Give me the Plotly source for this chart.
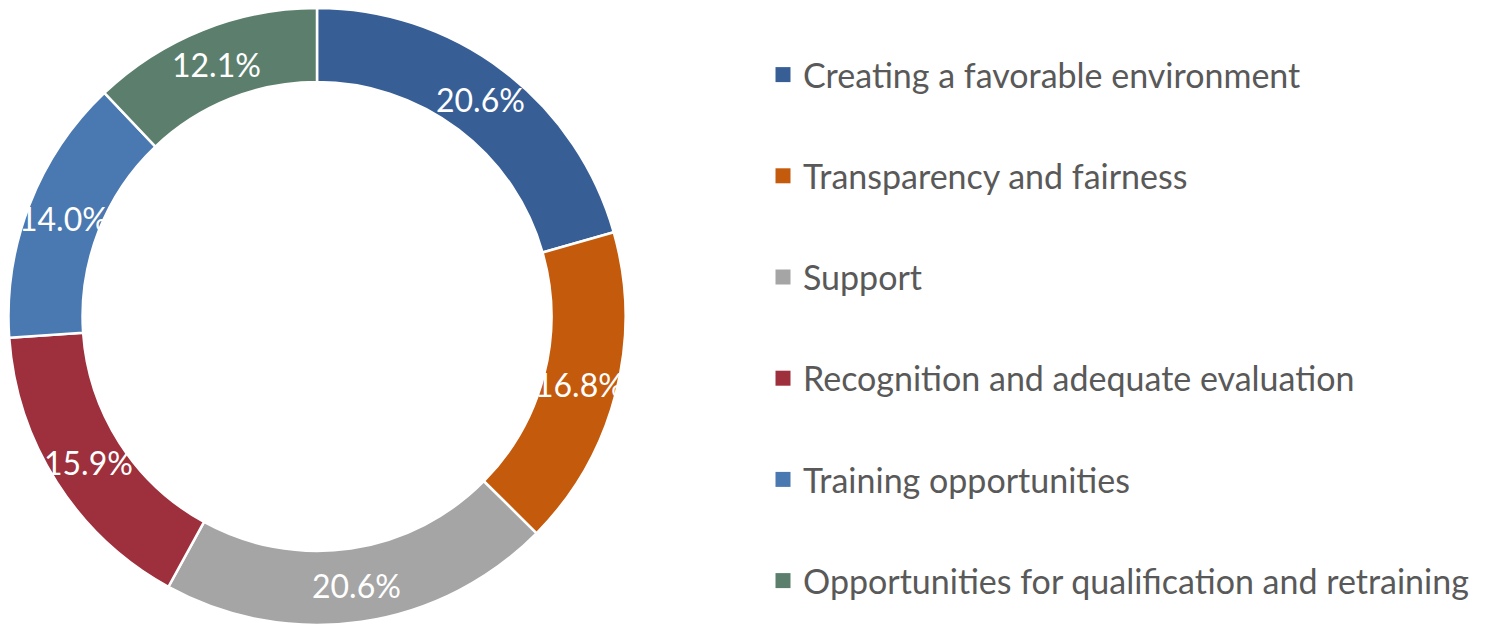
import math
import plotly.graph_objects as go

# Survey shares (percent) for each factor, in clockwise order from 12 o'clock
categories = [
    "Creating a favorable environment",
    "Transparency and fairness",
    "Support",
    "Recognition and adequate evaluation",
    "Training opportunities",
    "Opportunities for qualification and retraining",
]
shares = [20.6, 16.8, 20.6, 15.9, 14.0, 12.1]
colors = ["#385E96", "#C45A0C", "#A5A5A5", "#9E2F3C", "#4A78B0", "#5C7F6D"]

W, H = 1486, 625
FONT = "Lato, 'Open Sans', sans-serif"

# Donut geometry in pixels
cx_px, cy_px, r_px = 317.0, 316.5, 308.5
hole = 0.76
dom_x = [(cx_px - r_px) / W, (cx_px + r_px) / W]
dom_y = [(H - cy_px - r_px) / H, (H - cy_px + r_px) / H]

fig = go.Figure()
fig.add_trace(go.Pie(
    labels=categories,
    values=shares,
    sort=False,
    direction="clockwise",
    rotation=0,
    hole=hole,
    marker=dict(colors=colors, line=dict(color="white", width=2.5)),
    textposition="none",
    showlegend=False,
    hoverinfo="label+percent",
    domain=dict(x=dom_x, y=dom_y),
))

# Percentage labels centred on the middle of the ring for each slice
total = sum(shares)
r_mid = r_px * (1 + hole) / 2
cum = 0.0
for val in shares:
    mid = (cum + val / 2) / total * 2 * math.pi
    cum += val
    px = cx_px + r_mid * math.sin(mid)
    py = cy_px - r_mid * math.cos(mid)
    fig.add_annotation(
        x=px / W, y=(H - py) / H, xref="paper", yref="paper",
        text=f"{val:.1f}%", showarrow=False,
        font=dict(family=FONT, size=32, color="white"),
        xanchor="center", yanchor="middle",
    )

# Legend entries: one square marker per category, each in its own group
for name, col in zip(categories, colors):
    fig.add_trace(go.Scatter(
        x=[None], y=[None], mode="markers", name=name,
        legendgroup=name,
        marker=dict(symbol="square", size=15, color=col),
        hoverinfo="skip",
    ))

fig.update_layout(
    width=W, height=H,
    margin=dict(l=0, r=0, t=0, b=0),
    paper_bgcolor="white", plot_bgcolor="white",
    xaxis=dict(visible=False), yaxis=dict(visible=False),
    legend=dict(
        x=763 / W, y=1 - 46 / H, xanchor="left", yanchor="top",
        font=dict(family=FONT, size=34, color="#595959"),
        tracegroupgap=54,
        itemclick=False, itemdoubleclick=False,
        bgcolor="rgba(0,0,0,0)",
    ),
    showlegend=True,
)

fig.write_html("out.html")
